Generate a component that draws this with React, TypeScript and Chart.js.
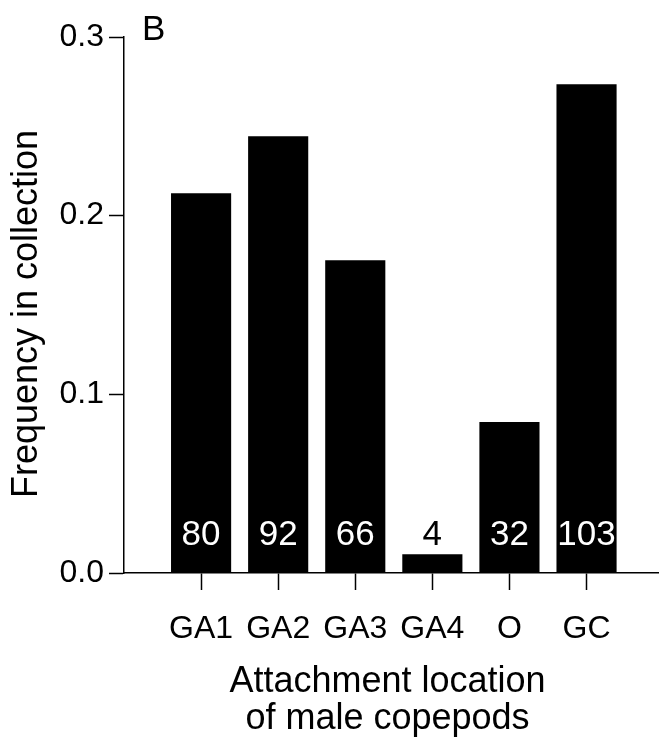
import React, { useEffect, useRef } from 'react';
import { Chart, registerables } from 'chart.js';

Chart.register(...registerables);

const categories = ['GA1', 'GA2', 'GA3', 'GA4', 'O', 'GC'];
const frequencies = [0.2125, 0.2445, 0.175, 0.0105, 0.0845, 0.2735];
const counts = ['80', '92', '66', '4', '32', '103'];
const yTicks = [0, 0.1, 0.2, 0.3];
const panelLabel = 'B';
const yTitle = 'Frequency in collection';
const xTitle = ['Attachment location', 'of male copepods'];

const FONT = '"Liberation Sans", Arial, Helvetica, sans-serif';

const countLabels = {
  id: 'countLabels',
  afterDatasetsDraw(chart: any) {
    const ctx = chart.ctx;
    const meta = chart.getDatasetMeta(0);
    const y0 = chart.scales.y.getPixelForValue(0);
    ctx.save();
    ctx.font = `35px ${FONT}`;
    ctx.textAlign = 'center';
    ctx.textBaseline = 'alphabetic';
    meta.data.forEach((bar: any, i: number) => {
      const yText = y0 - 28;
      ctx.fillStyle = bar.y < yText - 32 ? '#ffffff' : '#000000';
      ctx.fillText(counts[i], bar.x, yText);
    });
    ctx.restore();
  },
};

const textPlugin = {
  id: 'textPlugin',
  afterDraw(chart: any) {
    const ctx = chart.ctx;
    const { left, top, bottom, right } = chart.chartArea;
    ctx.save();
    ctx.fillStyle = '#000';
    // panel label
    ctx.font = `35px ${FONT}`;
    ctx.textAlign = 'left';
    ctx.textBaseline = 'alphabetic';
    ctx.fillText(panelLabel, left + 18, top + 3);
    // x axis title
    ctx.font = `36px ${FONT}`;
    ctx.textAlign = 'center';
    const cx = (left + right) / 2 - 4;
    ctx.fillText(xTitle[0], cx, bottom + 119);
    ctx.fillText(xTitle[1], cx, bottom + 156);
    // y axis title
    ctx.save();
    ctx.translate(left - 87, (top + bottom) / 2 + 9);
    ctx.rotate(-Math.PI / 2);
    ctx.fillText(yTitle, 0, 0);
    ctx.restore();
    ctx.restore();
  },
};

export default function App() {
  const canvasRef = useRef<HTMLCanvasElement | null>(null);

  useEffect(() => {
    const canvas = canvasRef.current;
    if (!canvas) return;
    const chart = new Chart(canvas, {
      type: 'bar',
      data: {
        datasets: [
          {
            data: categories.map((_, i) => ({ x: i, y: frequencies[i] })),
            backgroundColor: '#000000',
            borderWidth: 0,
            barPercentage: 0.78,
            categoryPercentage: 1,
          },
        ],
      },
      options: {
        animation: false,
        responsive: false,
        maintainAspectRatio: false,
        devicePixelRatio: 1,
        layout: { padding: { top: 37, left: 0, right: 0, bottom: 0 } },
        plugins: {
          legend: { display: false },
          tooltip: { enabled: false },
          title: { display: false },
        },
        scales: {
          x: {
            type: 'linear',
            min: -1,
            max: 5.94,
            offset: false,
            afterBuildTicks: (s: any) => {
              s.ticks = categories.map((_, i) => ({ value: i }));
            },
            afterFit: (s: any) => {
              s.height = 167;
            },
            ticks: {
              callback: (v: any) => categories[v as number] ?? '',
              font: { family: FONT, size: 32 },
              color: '#000',
              padding: 20,
              maxRotation: 0,
              autoSkip: false,
            },
            grid: {
              drawOnChartArea: false,
              drawTicks: true,
              tickLength: 17,
              tickWidth: 1.5,
              tickColor: '#000',
              offset: false,
            },
            border: { display: true, color: '#000', width: 1.5 },
            title: { display: false },
          },
          y: {
            min: 0,
            max: 0.3,
            afterBuildTicks: (s: any) => {
              s.ticks = yTicks.map((v) => ({ value: v }));
            },
            afterFit: (s: any) => {
              s.width = 124;
            },
            ticks: {
              callback: (v: any) => Number(v).toFixed(1),
              font: { family: FONT, size: 32 },
              color: '#000',
              padding: 5,
            },
            grid: {
              drawOnChartArea: false,
              drawTicks: true,
              tickLength: 15,
              tickWidth: 1.5,
              tickColor: '#000',
            },
            border: { display: true, color: '#000', width: 1.5 },
            title: { display: false },
          },
        },
      },
      plugins: [countLabels, textPlugin],
    });
    return () => chart.destroy();
  }, []);

  return (
    <div style={{ position: 'fixed', left: 0, top: 0, width: 659, height: 740, background: '#fff' }}>
      <canvas ref={canvasRef} width={659} height={740} style={{ width: 659, height: 740, display: 'block' }} />
    </div>
  );
}
